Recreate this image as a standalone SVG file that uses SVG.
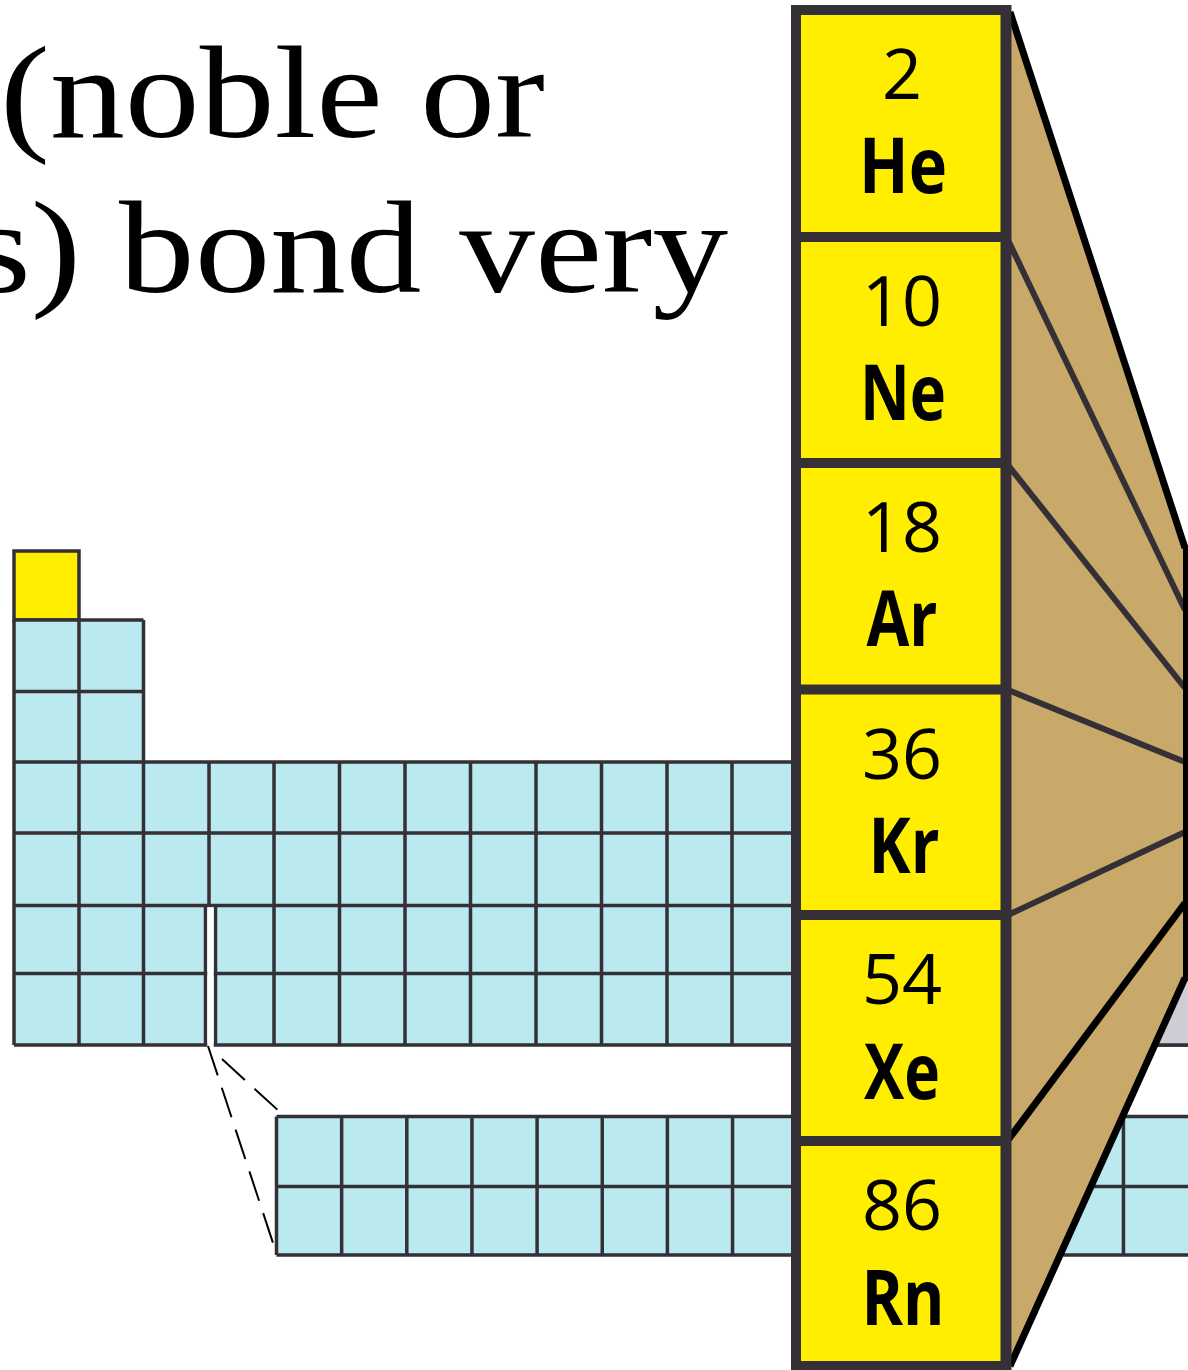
<svg xmlns="http://www.w3.org/2000/svg" width="1188" height="1370" viewBox="0 0 1188 1370">
  <style>
    .title { font-family: "Liberation Serif", "Times New Roman", serif; font-size: 132px; fill: #000; }
    .cyan { fill: #bbe9f0; }
    .grid { fill: none; stroke: #352f36; stroke-width: 3.5; }
    .num { font-family: "Open Sans", "Noto Sans", sans-serif; font-size: 70px; fill: #000; text-anchor: middle; }
    .sym { font-family: "Open Sans", "Noto Sans", sans-serif; font-weight: bold; font-size: 77px; fill: #000; text-anchor: middle; }
    .fanline { stroke: #352f36; stroke-width: 6; fill: none; }
    .fanblack { stroke: #000; stroke-width: 7; fill: none; }
    .dash { stroke: #000; stroke-width: 2; fill: none; stroke-dasharray: 31 13; }
  </style>

  <rect width="1188" height="1370" fill="#fff"/>

  <g id="title">
    <text class="title" x="0" y="137" textLength="545" lengthAdjust="spacingAndGlyphs">(noble or</text>
    <text class="title" x="-28" y="292" textLength="756" lengthAdjust="spacingAndGlyphs">s) bond very</text>
  </g>

  <g id="main-table">
    <rect x="14" y="551" width="65" height="69" fill="#ffee00" stroke="#352f36" stroke-width="3.5"/>
    <rect class="cyan" x="14" y="620" width="129.5" height="142"/>
    <rect class="cyan" x="14" y="762" width="1180" height="283"/>
    <path class="grid" d="M14 620H143.5M14 691.5H143.5M14 620V762M79 620V762M143.5 620V762
      M14 762H1188M14 833H1188M14 905.5H1188M14 973.5H1188M14 1045H1188
      M14 762V1045M79 762V1045M143.5 762V1045M209 762V905.5M205.5 905.5V1045M215.5 905.5V1045
      M274 762V1045M339.5 762V1045M405 762V1045M470.5 762V1045M536 762V1045M601.5 762V1045M667 762V1045M732 762V1045M797 762V1045"/>
    <rect x="207.3" y="907.3" width="6.4" height="140" fill="#fff"/>
  </g>

  <g id="lanthanides">
    <rect class="cyan" x="276.5" y="1116.5" width="915" height="138.5"/>
    <path class="grid" d="M276.5 1116.5H1190M276.5 1186.5H1190M276.5 1255H1190
      M276.5 1116.5V1255M341.65 1116.5V1255M406.8 1116.5V1255M471.95 1116.5V1255M537.1 1116.5V1255M602.25 1116.5V1255M667.4 1116.5V1255M732.55 1116.5V1255M797.7 1116.5V1255M1123.45 1116.5V1255"/>
  </g>

  <g id="connectors">
    <line class="dash" x1="208" y1="1046" x2="276" y2="1252"/>
    <line class="dash" x1="222" y1="1059" x2="281" y2="1113"/>
  </g>

  <g id="fan">
    <polygon points="1185,980 1190,980 1190,1046 1155,1046" fill="#d0ccd6"/>
    <path d="M1188,1045H1155" stroke="#352f36" stroke-width="3.5"/>
    <polygon points="1008,12 1185,548 1185,980 1010,1366 1008,1366" fill="#c9a96a"/>
    <line class="fanline" x1="1008" y1="240" x2="1185" y2="610"/>
    <line class="fanline" x1="1008" y1="465" x2="1185" y2="688"/>
    <line class="fanline" x1="1008" y1="690" x2="1185" y2="762"/>
    <line class="fanline" x1="1008" y1="915" x2="1185" y2="832"/>
    <line class="fanblack" x1="1008" y1="1140" x2="1185" y2="903"/>
    <line class="fanblack" x1="1010" y1="1366" x2="1185" y2="978"/>
    <line class="fanblack" x1="1010" y1="12" x2="1185" y2="548"/>
    <line stroke="#000" stroke-width="5" x1="1185.5" y1="545" x2="1185.5" y2="981"/>
  </g>

  <g id="noble-column">
    <rect x="796" y="10" width="209.5" height="1356" fill="#ffee00" stroke="#352f36" stroke-width="10"/>
    <line x1="1009" y1="5" x2="1009" y2="1370" stroke="#352f36" stroke-width="5"/>
    <g id="He">
      <text class="num" x="902" y="99">2</text>
      <text class="sym" x="903" y="193" textLength="88" lengthAdjust="spacingAndGlyphs">He</text>
    </g>
    <g id="Ne">
      <line x1="796" y1="237" x2="1005" y2="237" stroke="#352f36" stroke-width="10"/>
      <text class="num" x="902" y="326">10</text>
      <text class="sym" x="903" y="420" textLength="86" lengthAdjust="spacingAndGlyphs">Ne</text>
    </g>
    <g id="Ar">
      <line x1="796" y1="463" x2="1005" y2="463" stroke="#352f36" stroke-width="10"/>
      <text class="num" x="902" y="552">18</text>
      <text class="sym" x="902" y="646" textLength="71" lengthAdjust="spacingAndGlyphs">Ar</text>
    </g>
    <g id="Kr">
      <line x1="796" y1="689.5" x2="1005" y2="689.5" stroke="#352f36" stroke-width="10"/>
      <text class="num" x="902" y="779">36</text>
      <text class="sym" x="904" y="873" textLength="71" lengthAdjust="spacingAndGlyphs">Kr</text>
    </g>
    <g id="Xe">
      <line x1="796" y1="915" x2="1005" y2="915" stroke="#352f36" stroke-width="10"/>
      <text class="num" x="902" y="1004">54</text>
      <text class="sym" x="902" y="1099" textLength="76" lengthAdjust="spacingAndGlyphs">Xe</text>
    </g>
    <g id="Rn">
      <line x1="796" y1="1141" x2="1005" y2="1141" stroke="#352f36" stroke-width="10"/>
      <text class="num" x="902" y="1230">86</text>
      <text class="sym" x="903" y="1325" textLength="83" lengthAdjust="spacingAndGlyphs">Rn</text>
    </g>
  </g>
</svg>
